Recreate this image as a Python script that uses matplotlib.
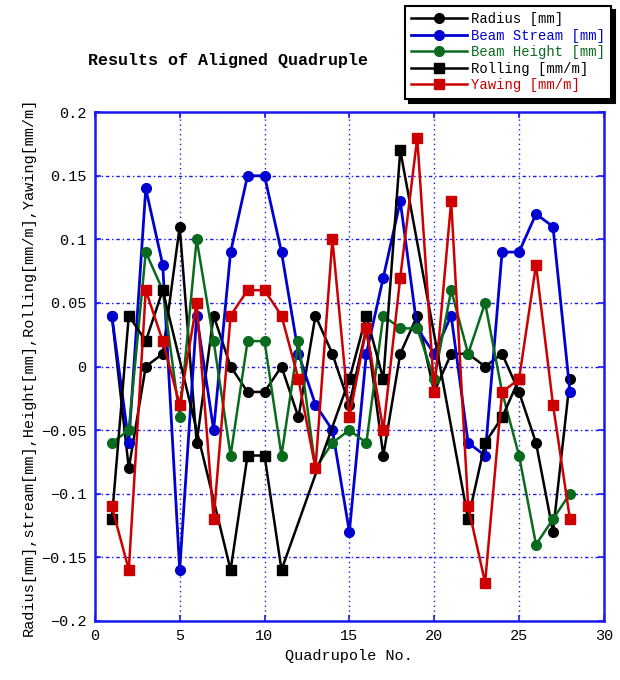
import matplotlib

matplotlib.use("Agg")
import matplotlib.pyplot as plt
from matplotlib.ticker import FixedLocator


QUAD_NO = list(range(1, 29))
RADIUS = [0.04, -0.08, 0.00, 0.01, 0.11, -0.06, 0.04, 0.00, -0.02, -0.02, 0.00, -0.04, 0.04, 0.01,
          -0.03, 0.03, -0.07, 0.01, 0.04, -0.02, 0.01, 0.01, 0.00, 0.01, -0.02, -0.06, -0.13, -0.01]
BEAM_STREAM = [0.04, -0.06, 0.14, 0.08, -0.16, 0.04, -0.05, 0.09, 0.15, 0.15, 0.09, 0.01, -0.03, -0.05,
               -0.13, 0.01, 0.07, 0.13, 0.03, 0.01, 0.04, -0.06, -0.07, 0.09, 0.09, 0.12, 0.11, -0.02]
BEAM_HEIGHT = [-0.06, -0.05, 0.09, 0.06, -0.04, 0.10, 0.02, -0.07, 0.02, 0.02, -0.07, 0.02, -0.08, -0.06,
               -0.05, -0.06, 0.04, 0.03, 0.03, -0.01, 0.06, 0.01, 0.05, -0.02, -0.07, -0.14, -0.12, -0.10]
# rolling was only measured in groups of four quadrupoles
ROLLING_NO = [1, 2, 3, 4, 8, 9, 10, 11, 15, 16, 17, 18, 22, 23, 24, 25]
ROLLING = [-0.12, 0.04, 0.02, 0.06, -0.16, -0.07, -0.07, -0.16, -0.01, 0.04, -0.01, 0.17,
           -0.12, -0.06, -0.04, -0.01]
YAWING = [-0.11, -0.16, 0.06, 0.02, -0.03, 0.05, -0.12, 0.04, 0.06, 0.06, 0.04, -0.01, -0.08, 0.10,
          -0.04, 0.03, -0.05, 0.07, 0.18, -0.02, 0.13, -0.11, -0.17, -0.02, -0.01, 0.08, -0.03, -0.12]

X_TICKS = [0, 5, 10, 15, 20, 25, 30]
Y_TICKS = [-0.2, -0.15, -0.1, -0.05, 0, 0.05, 0.1, 0.15, 0.2]
Y_TICK_LABELS = ["\u22120.2", "\u22120.15", "\u22120.1", "\u22120.05", "0", "0.05", "0.1", "0.15", "0.2"]

SERIES = [
    ("Radius [mm]", QUAD_NO, RADIUS, "#000000", "o"),
    ("Beam Stream [mm]", QUAD_NO, BEAM_STREAM, "#0000d0", "o"),
    ("Beam Height [mm]", QUAD_NO, BEAM_HEIGHT, "#0a6b1e", "o"),
    ("Rolling [mm/m]", ROLLING_NO, ROLLING, "#000000", "s"),
    ("Yawing [mm/m]", QUAD_NO, YAWING, "#cc0000", "s"),
]
AXIS_BLUE = "#1a1aee"

plt.rcParams["font.family"] = ["Liberation Mono", "DejaVu Sans Mono"]


def main() -> None:
    fig = plt.figure(figsize=(6.2, 6.8), dpi=100)
    ax = fig.add_axes([0.153, 0.087, 0.821, 0.748])

    for label, xs, ys, color, marker in SERIES:
        ax.plot(
            xs,
            ys,
            color=color,
            marker=marker,
            markersize=7,
            linewidth=2.0 if label.startswith("Beam Stream") else 1.8,
            label=label,
        )

    ax.set_xlim(0, 30)
    ax.set_ylim(-0.2, 0.2)
    ax.xaxis.set_major_locator(FixedLocator(X_TICKS))
    ax.set_xticklabels([str(t) for t in X_TICKS])
    ax.yaxis.set_major_locator(FixedLocator(Y_TICKS))
    ax.set_yticklabels(Y_TICK_LABELS)
    ax.tick_params(direction="in", top=True, right=True, length=4, width=1.2,
                   color=AXIS_BLUE, labelcolor="black", labelsize=11, pad=6)
    for spine in ax.spines.values():
        spine.set_color(AXIS_BLUE)
        spine.set_linewidth(1.8)

    ax.grid(axis="x", color=AXIS_BLUE, linestyle=(0, (1, 2.5)), linewidth=1.0)
    ax.grid(axis="y", color=AXIS_BLUE, linestyle=(0, (2.5, 2, 1, 2)), linewidth=1.0)
    ax.set_axisbelow(True)

    ax.set_xlabel("Quadrupole No.", fontsize=11, labelpad=4)
    ax.set_ylabel("Radius[mm],stream[mm],Height[mm],Rolling[mm/m],Yawing[mm/m]",
                  fontsize=11, labelpad=4)

    fig.text(88 / 620, 1 - 60 / 680, "Results of Aligned Quadruple",
             fontsize=12, fontweight="bold", ha="left", va="center")

    legend = fig.legend(
        loc="upper right",
        bbox_to_anchor=(611 / 620, 1 - 6 / 680),
        borderaxespad=0,
        fontsize=10,
        frameon=True,
        fancybox=False,
        shadow={"color": "black", "alpha": 1.0, "ox": 3, "oy": -3},
        handlelength=4.0,
        labelspacing=0.18,
        borderpad=0.45,
        handletextpad=0.3,
        framealpha=1,
    )
    legend.get_frame().set_edgecolor("black")
    legend.get_frame().set_linewidth(1.5)
    for text, (_, _, _, color, _) in zip(legend.get_texts(), SERIES):
        text.set_color(color)

    fig.savefig("out.png", dpi=100)
    plt.close(fig)


if __name__ == "__main__":
    main()
